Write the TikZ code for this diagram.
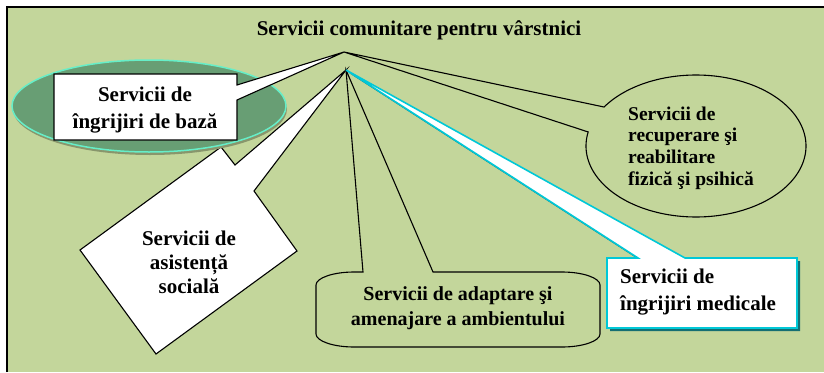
\documentclass[tikz,border=0pt]{standalone}
\usepackage{fontspec}
\setmainfont{Liberation Serif}
\definecolor{fundal}{RGB}{195,214,155}
\definecolor{elipsa}{RGB}{104,158,116}
\definecolor{aqua}{RGB}{102,238,200}
\definecolor{cyanmed}{RGB}{0,200,215}
\definecolor{umbra}{RGB}{20,110,115}

\begin{document}
\begin{tikzpicture}[x=1pt,y=-1pt,
    contur/.style={draw=black,line width=1.1pt},
    eticheta/.style={inner sep=0pt,font=\bfseries\fontsize{21}{27}\selectfont}]
    \useasboundingbox (0,0) rectangle (824,372);
    \fill[fundal] (7,7) rectangle (824,372);
    \draw[line width=1.4pt] (7,372) -- (7,7) -- (824,7);

    \node[eticheta,anchor=base] (titlu) at (419,35) {Servicii comunitare pentru vârstnici};
    \coordinate (varfA) at (344,52);
    \coordinate (varfB) at (346,70);

    % asistenta sociala
    \draw[contur,fill=white] (80,250) -- (221,147) -- (235,165) -- (varfB) -- (254,191) -- (297,251) -- (156,354) -- cycle;
    \node[eticheta,align=center,font=\bfseries\fontsize{21}{24}\selectfont] (sociala) at (189,262) {Servicii de\\asistență\\socială};

    % ingrijiri de baza
    \fill[black!30!fundal] (150,109) ellipse [x radius=137pt, y radius=46pt];
    \draw[aqua,fill=elipsa,line width=1.5pt] (149,106) ellipse [x radius=137pt, y radius=46pt];
    \draw[contur,fill=white] (54,74) -- (237,74) -- (237,85) -- (varfA) -- (237,100) -- (237,140) -- (54,140) -- cycle;
    \node[eticheta,align=center] (baza) at (145,110) {Servicii de\\îngrijiri de bază};

    % recuperare
    \draw[contur,fill=fundal] (varfA) -- plot[domain=191.4:-146.7,samples=160] ({696+110*cos(\x)},{146+71*sin(\x)}) -- cycle;
    \node[eticheta,align=left,anchor=west,font=\bfseries\fontsize{19.5}{21.7}\selectfont] (recuperare) at (628,148) {Servicii de\\recuperare şi\\reabilitare\\fizică şi psihică};

    % adaptare
    \draw[contur,fill=fundal] (363,272) -- (varfB) -- (433,272) -- (562,272)
        .. controls (583,272) and (600,278) .. (600,285) -- (600,334)
        .. controls (600,341) and (583,347) .. (562,347) -- (354,347)
        .. controls (333,347) and (316,341) .. (316,334) -- (316,285)
        .. controls (316,278) and (333,272) .. (354,272) -- cycle;
    \node[eticheta,align=center,font=\bfseries\fontsize{20}{25}\selectfont] (adaptare) at (458,308) {Servicii de adaptare şi\\amenajare a ambientului};

    % ingrijiri medicale
    \fill[umbra] (610,261) -- (641,261) -- ([shift={(3,3)}]varfB) -- (688,261) -- (800,261) -- (800,331) -- (610,331) -- cycle;
    \draw[cyanmed,fill=white,line width=1.6pt] (607,258) -- (638,258) -- (varfB) -- (685,258) -- (797,258) -- (797,328) -- (607,328) -- cycle;
    \node[eticheta,align=left,anchor=west] (medicale) at (620,292) {Servicii de\\îngrijiri medicale};
\end{tikzpicture}
\end{document}
